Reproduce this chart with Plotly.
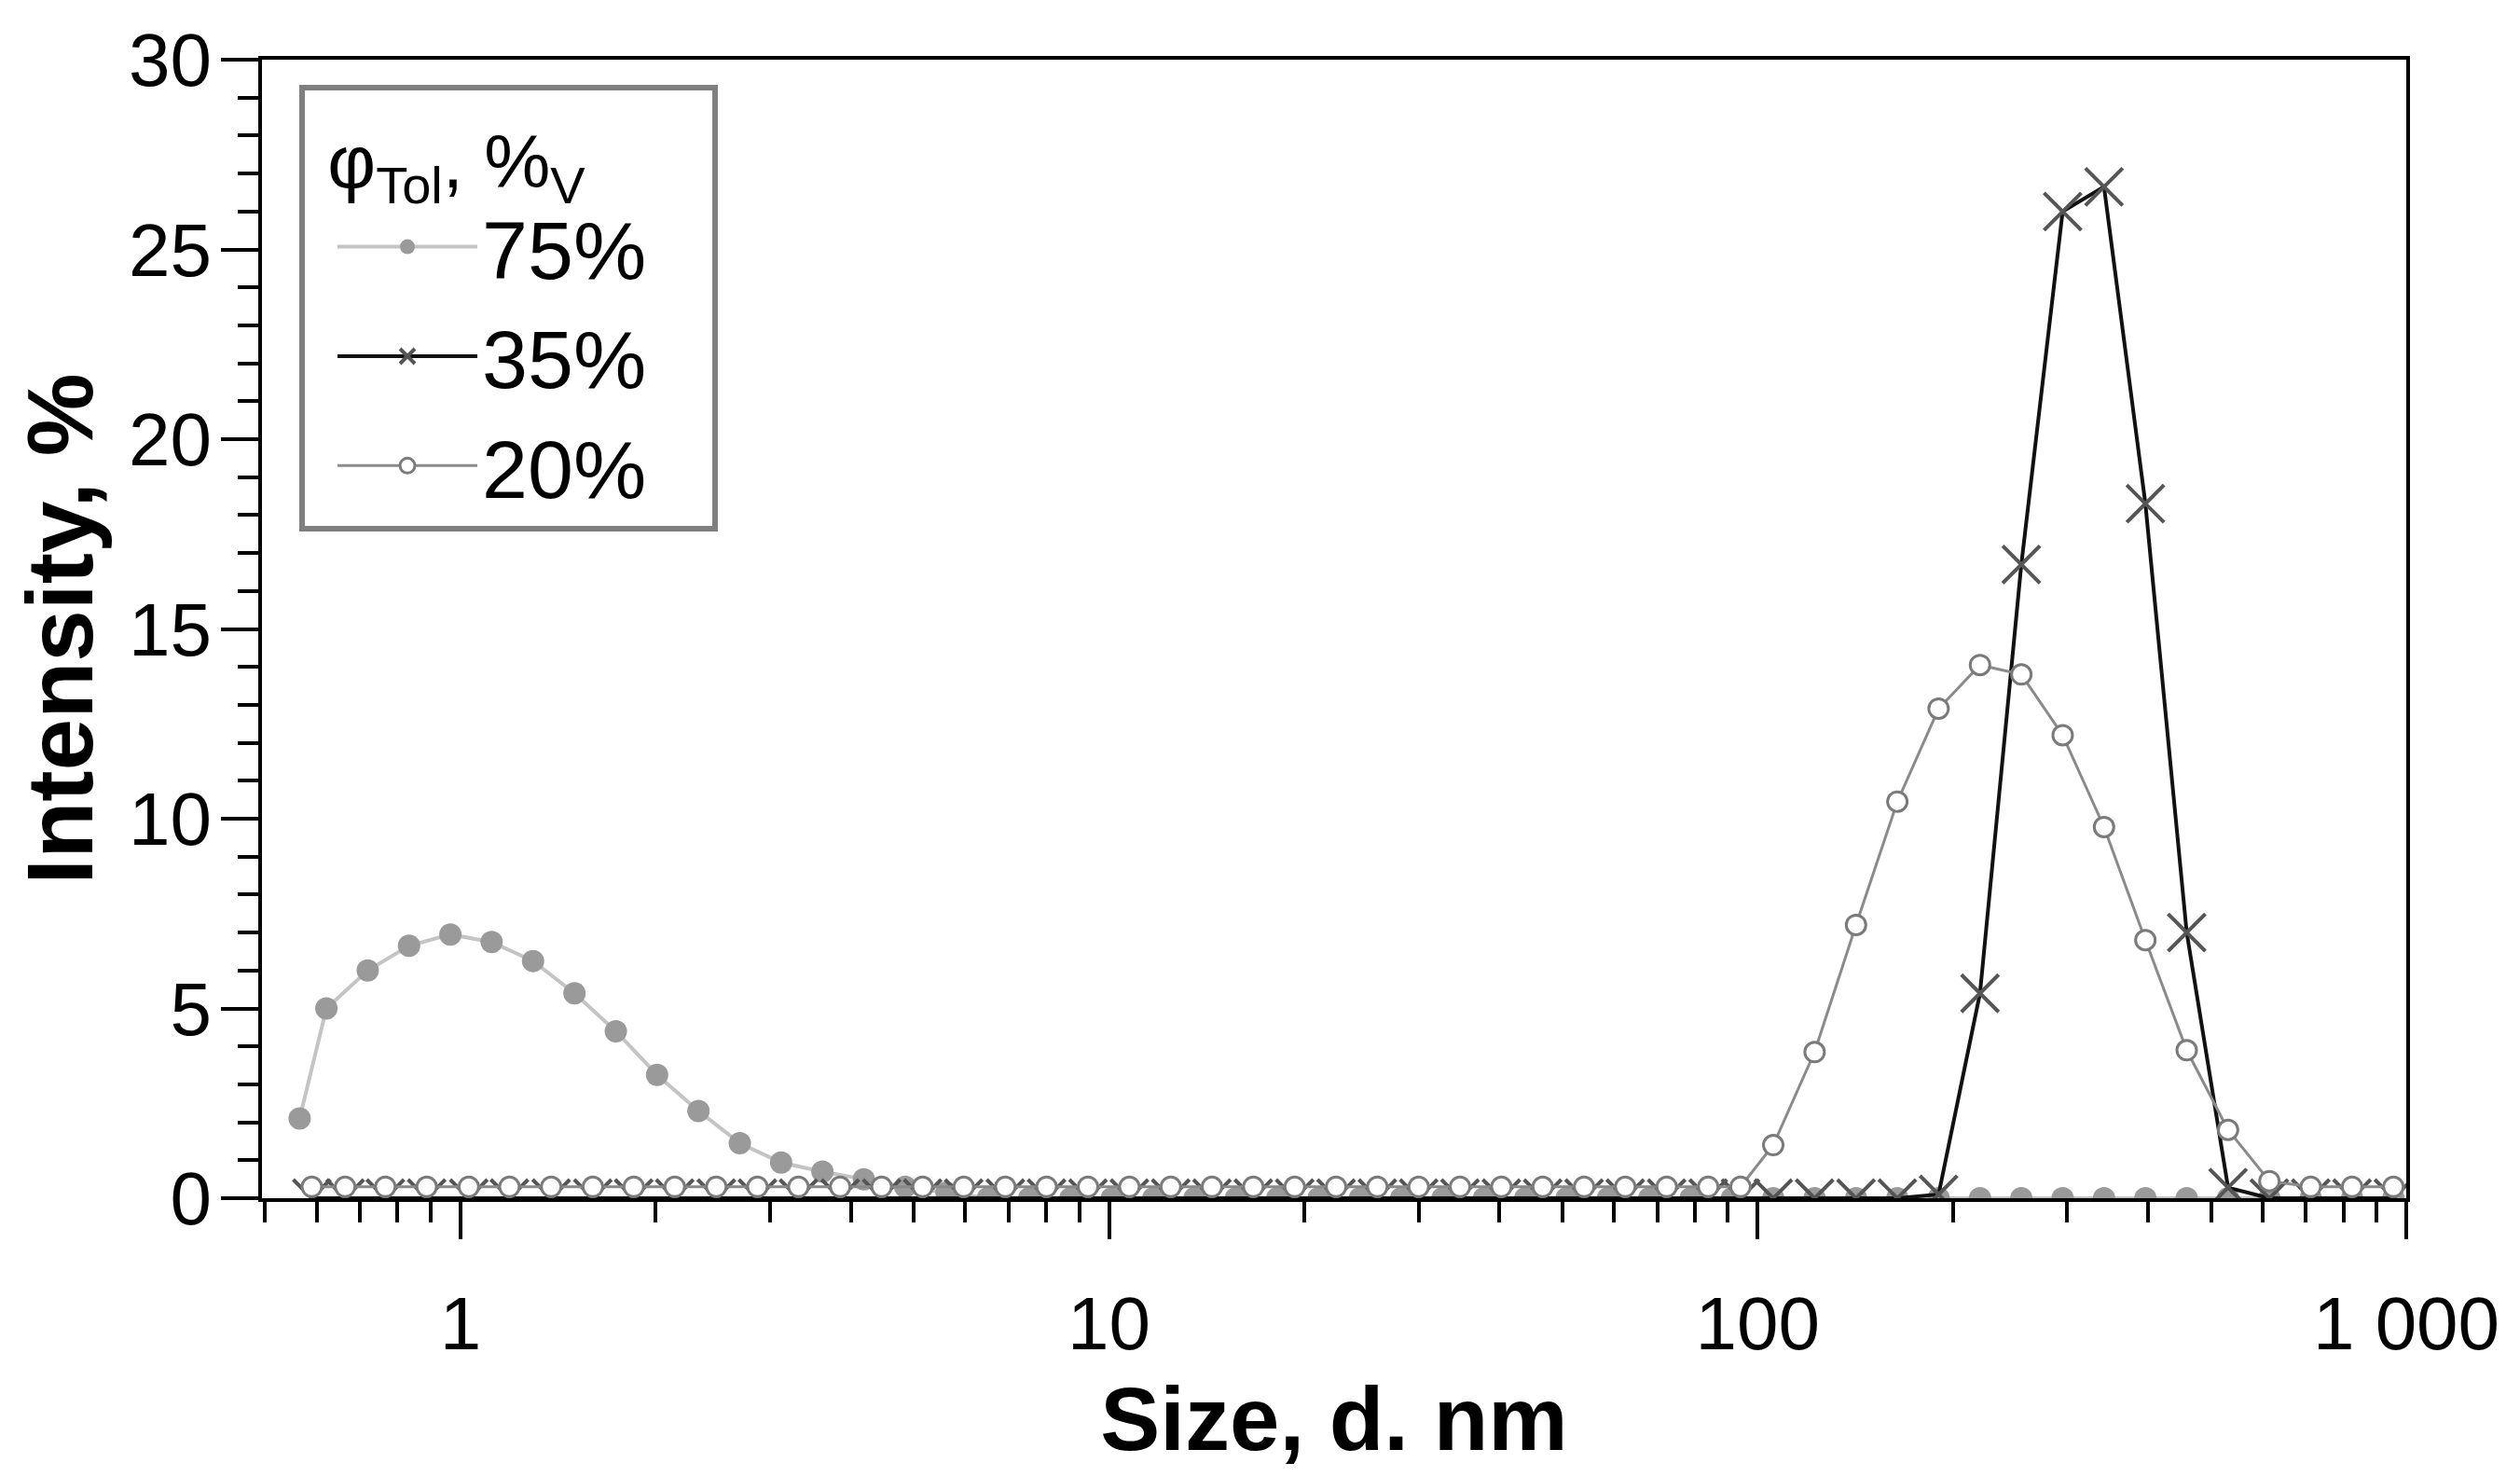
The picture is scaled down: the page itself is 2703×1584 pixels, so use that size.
import plotly.graph_objects as go

# ---- data ----
size_75 = [0.565, 0.6213, 0.7195, 0.8332, 0.9649, 1.117, 1.294, 1.499, 1.736, 2.01,
           2.328, 2.696, 3.122, 3.615, 4.187, 4.849, 5.615, 6.503, 7.531, 8.721,
           10.1, 11.7, 13.54, 15.69, 18.17, 21.04, 24.36, 28.21, 32.67, 37.84,
           43.82, 50.75, 58.77, 68.06, 78.82, 91.28, 105.7, 122.4, 141.8, 164.2,
           190.1, 220.2, 255.0, 295.3, 342.0, 396.1, 458.7, 531.2, 615.1, 712.4,
           825.0, 955.4]
int_75 = [2.1, 5.0, 6.0, 6.65, 6.95, 6.75, 6.25, 5.4, 4.4, 3.25,
          2.3, 1.45, 0.94, 0.7, 0.5, 0.3, 0.15, 0, 0, 0,
          0, 0, 0, 0, 0, 0, 0, 0, 0, 0,
          0, 0, 0, 0, 0, 0, 0, 0, 0, 0,
          0, 0, 0, 0, 0, 0, 0, 0, 0, 0,
          0, 0]

size_low = [0.59, 0.664, 0.766, 0.887, 1.03, 1.19, 1.38, 1.60, 1.85, 2.14,
            2.48, 2.87, 3.32, 3.85, 4.46, 5.16, 5.97, 6.92, 8.01, 9.28,
            10.75, 12.45, 14.41, 16.69, 19.33, 22.39, 25.92, 30.02, 34.76, 40.26,
            46.62, 54.0, 62.5, 72.4, 83.9, 94.1, 105.7, 122.4, 141.8, 164.2,
            190.1, 220.2, 255.0, 295.3, 342.0, 396.1, 458.7, 531.2, 615.1, 712.4,
            825.0, 955.4]
int_35 = [0, 0, 0, 0, 0, 0, 0, 0, 0, 0,
          0, 0, 0, 0, 0, 0, 0, 0, 0, 0,
          0, 0, 0, 0, 0, 0, 0, 0, 0, 0,
          0, 0, 0, 0, 0, 0, 0, 0, 0, 0,
          0.1, 5.4, 16.7, 26.0, 26.65, 18.3, 7.0, 0.28, 0, 0,
          0, 0]
int_20 = [0.3, 0.3, 0.3, 0.3, 0.3, 0.3, 0.3, 0.3, 0.3, 0.3,
          0.3, 0.3, 0.3, 0.3, 0.3, 0.3, 0.3, 0.3, 0.3, 0.3,
          0.3, 0.3, 0.3, 0.3, 0.3, 0.3, 0.3, 0.3, 0.3, 0.3,
          0.3, 0.3, 0.3, 0.3, 0.3, 0.3, 1.4, 3.85, 7.2, 10.45,
          12.9, 14.05, 13.8, 12.2, 9.78, 6.8, 3.9, 1.8, 0.45, 0.3,
          0.3, 0.3]

series_names = ["75%", "35%", "20%"]
legend_title = "φ<sub>Tol</sub>, %<sub>V</sub>"
x_tickvals = [1, 10, 100, 1000]
x_ticktext = ["1", "10", "100", "1 000"]
x_minor = [0.5, 0.6, 0.7, 0.8, 0.9, 2, 3, 4, 5, 6, 7, 8, 9,
           20, 30, 40, 50, 60, 70, 80, 90, 200, 300, 400, 500, 600, 700, 800, 900]
y_tickvals = [0, 5, 10, 15, 20, 25, 30]

FONT = "Liberation Sans, Arial, sans-serif"
NBSP = "\u00a0"

fig = go.Figure()
fig.add_trace(go.Scatter(
    x=size_75, y=int_75, name=series_names[0], mode="lines+markers",
    line=dict(color="#c4c4c4", width=4),
    marker=dict(symbol="circle", size=24, color="#9a9a9a", line=dict(width=0)),
))
fig.add_trace(go.Scatter(
    x=size_low, y=int_35, name=series_names[1], mode="lines+markers",
    line=dict(color="#111111", width=4),
    marker=dict(symbol="x-thin", size=40, color="#555555", line=dict(width=4, color="#555555")),
))
fig.add_trace(go.Scatter(
    x=size_low, y=int_20, name=series_names[2], mode="lines+markers",
    line=dict(color="#8a8a8a", width=3),
    marker=dict(symbol="circle", size=21, color="white", line=dict(width=3, color="#7a7a7a")),
))

axis_common = dict(
    showline=True, linecolor="black", linewidth=4, mirror=True,
    showgrid=False, zeroline=False,
    ticks="outside", ticklen=40, tickwidth=4, tickcolor="black",
    tickfont=dict(family=FONT, size=80, color="black"),
)

fig.update_xaxes(
    type="log", range=[-0.306, 3.0],
    tickvals=x_tickvals, ticktext=x_ticktext,
    minor=dict(tickvals=x_minor, ticks="outside", ticklen=22, tickwidth=4, tickcolor="black"),
    title=dict(text="<b>Size, d. nm</b>", font=dict(family=FONT, size=96, color="black"), standoff=26),
    ticklabelstandoff=22,
    automargin=False,
    **axis_common,
)
fig.update_yaxes(
    range=[0, 30], tickvals=y_tickvals,
    minor=dict(dtick=1, ticks="outside", ticklen=22, tickwidth=4, tickcolor="black"),
    title=dict(text="<b>Intensity, %</b>", font=dict(family=FONT, size=100, color="black"), standoff=26),
    ticklabelstandoff=-6,
    automargin=True,
    **axis_common,
)

fig.update_layout(
    width=2687, height=1568,
    margin=dict(l=273, r=114, t=56, b=291),
    paper_bgcolor="white", plot_bgcolor="white",
    font=dict(family=FONT, color="black"),
    legend=dict(
        x=0.0174, y=0.978, xanchor="left", yanchor="top",
        bgcolor="white", bordercolor="#7f7f7f", borderwidth=6,
        font=dict(family=FONT, size=88, color="black"),
        title=dict(text=NBSP + legend_title + NBSP * 6,
                   font=dict(family=FONT, size=80, color="black"), side="top"),
        itemwidth=150,
        indentation=30,
    ),
    showlegend=True,
)

fig.write_html("out.html")
